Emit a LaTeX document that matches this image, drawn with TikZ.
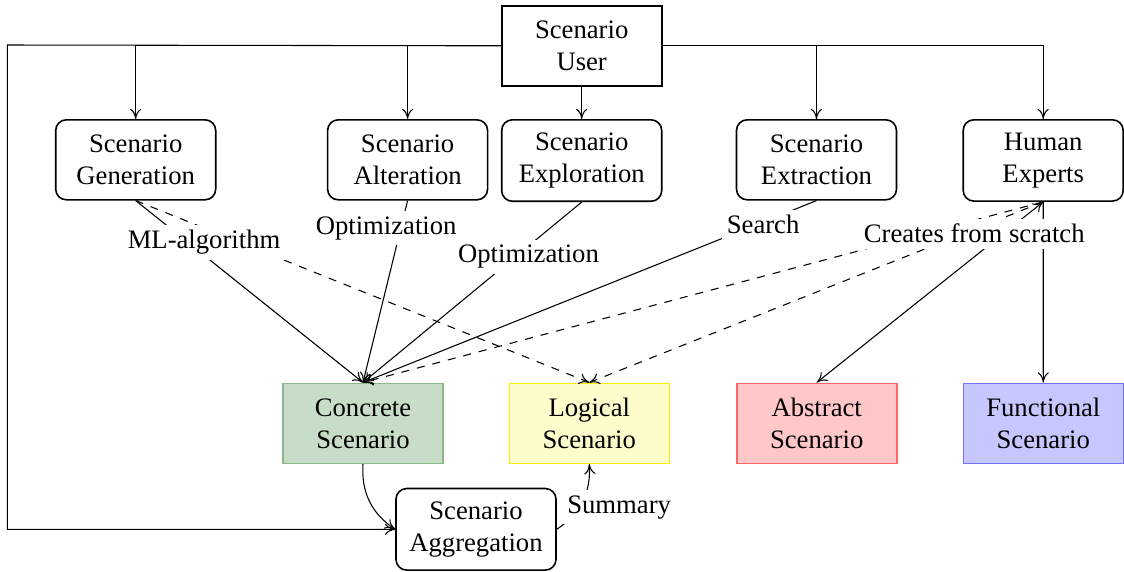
\documentclass[tikz,border=0pt]{standalone}
\usepackage{fontspec}
\setmainfont{Liberation Serif}
\usetikzlibrary{arrows.meta}

\begin{document}
\begin{tikzpicture}[x=0.375pt, y=0.375pt, >={To[length=3.8pt, width=4.2pt]},
    userbox/.style={draw, semithick, align=center, minimum width=60pt, minimum height=30pt, inner ysep=4.9pt},
    toolbox/.style={userbox, rounded corners},
    levelbox/.style={draw, semithick, align=center, minimum width=60pt, minimum height=30pt},
    lbl/.style={fill=white, inner sep=2pt}]

    \newcommand*{\yTop}{566}%
    \newcommand*{\yTool}{452}%
    \newcommand*{\yLevel}{147.7}%
    \newcommand*{\yAgg}{41.7}%
    \newcommand*{\xLeft}{7.3}%

    \useasboundingbox (0,0) rectangle (1124,571);

    \node[userbox, anchor=north] (user) at (581.7,\yTop) {Scenario\\User};

    \node[toolbox, anchor=north] (generation) at (135.7,\yTool) {Scenario\\Generation};
    \node[toolbox, anchor=north] (alteration) at (407.6,\yTool) {Scenario\\Alteration};
    \node[toolbox, anchor=north] (exploration) at (581.7,\yTool) {Scenario\\Exploration};
    \node[toolbox, anchor=north] (extraction) at (816.5,\yTool) {Scenario\\Extraction};
    \node[toolbox, anchor=north] (experts) at (1043.2,\yTool) {Human\\Experts};

    \foreach \nm/\x/\fillcol/\drawcol/\txt in {concrete/363/green!39!black!22/green!39!black!45/Concrete,
        logical/589.3/yellow!20/yellow!95!orange/Logical,
        abstract/816.7/red!22/red!60/Abstract,
        functional/1043.3/blue!22/blue!55/Functional} {
      \node[levelbox, fill=\fillcol, draw=\drawcol] (\nm) at (\x,\yLevel) {\txt\\Scenario};
    }

    \node[toolbox] (aggregation) at (476,\yAgg) {Scenario\\Aggregation};

    % user to the tools
    \draw[->] (user.west) -| (generation.north);
    \draw[->] (user.west) -| (alteration.north);
    \draw[->] (user) -- (exploration);
    \draw[->] (user.east) -| (extraction.north);
    \draw[->] (user.east) -| (experts.north);
    \coordinate (farLeft) at (\xLeft,526);
    \draw[->] (user.west) -- (farLeft) |- (aggregation.west);

    % lines under the labels go first
    \draw[->, dashed] (generation.south) -- (logical.north);
    \draw[->, dashed] (experts.south) -- (concrete.north);
    \draw[->, dashed] (experts.south) -- (logical.north);
    \draw[->] (experts) -- (functional);

    \draw[->] (generation.south) -- node[lbl, pos=0.228, xshift=6.2pt] {ML-algorithm} (concrete.north);
    \draw[->] (alteration.south) -- node[lbl, pos=0.152, xshift=-5.5pt] {Optimization} (concrete.north);
    \draw[->] (exploration.south) -- node[lbl, pos=0.302, xshift=4.8pt] {Optimization} (concrete.north);
    \draw[->] (extraction.south) -- node[lbl, pos=0.133, xshift=2.6pt] {Search} (concrete.north);
    \draw[<->] (experts.south) -- node[lbl, pos=0.176, xshift=-10.9pt] {Creates from scratch} (abstract.north);

    \draw[->] (concrete.south) to[bend right] (aggregation.west);
    \draw[->] (aggregation.east) to[bend right] node[lbl, pos=0.5, xshift=13.7pt, yshift=-2.2pt] {Summary} (logical.south);
    % \draw[->] (aggregation.north) -- (logical.south);
\end{tikzpicture}
\end{document}
